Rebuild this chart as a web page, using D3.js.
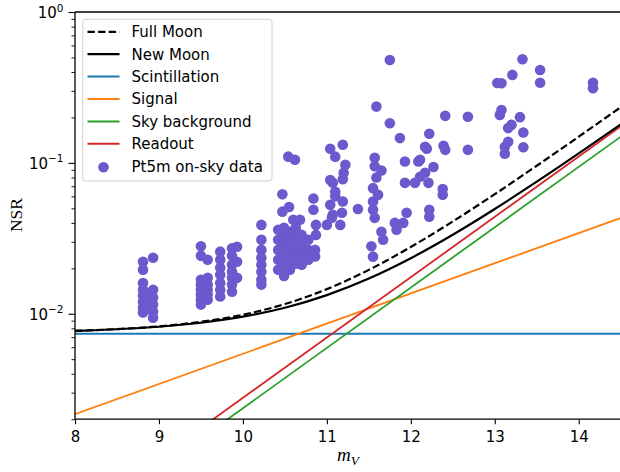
<!DOCTYPE html>
<html><head><meta charset="utf-8">
<script src="https://cdn.jsdelivr.net/npm/d3@7"></script>
<style>body{margin:0;background:#fff}svg{display:block}</style>
</head><body>
<svg id="c" width="620" height="472"></svg>
<script>
// ---- data ----
const xTicks = [8, 9, 10, 11, 12, 13, 14];
const yMajorTicks = [0.01, 0.1, 1];
const yMajorExp = ["-2", "-1", "0"];
const mGrid = [8, 8.5, 9, 9.5, 10, 10.5, 11, 11.5, 12, 12.5, 13, 13.5, 14, 14.5];
const fullMoon = [0.00770, 0.00791, 0.00825, 0.00884, 0.00985, 0.01159, 0.01456, 0.01953, 0.0277, 0.0409, 0.0620, 0.0957, 0.1491, 0.2338];
const newMoon  = [0.00769, 0.00789, 0.00820, 0.00872, 0.00956, 0.01096, 0.01329, 0.01712, 0.02335, 0.03339, 0.04946, 0.07503, 0.1156, 0.1801];
const mEnds = [8, 14.5];
const scintillation = [0.00737, 0.00737];
const signal = [0.00216, 0.0431];
const skyBackground = [0.000375, 0.149];
const readout = [0.000439, 0.1747];
const dataM = [
 8.81,8.81,8.81,8.81,8.81,8.81,8.81,8.81, 8.88,8.88, 8.93,8.93,8.93,8.93,8.93,8.93,
 9.50,9.50,9.50,9.50,9.50,9.50,9.50,9.50, 9.58,9.58,9.58,9.58,9.58,9.58,
 9.73,9.73,9.73,9.73,9.73,9.73,9.73, 9.87,9.87,9.87,9.87,9.87,9.87,9.87, 9.93,9.93,9.93,
 10.22,10.22,10.22,10.22,10.22,10.22,10.22,10.22,
 10.47,10.47,10.54,10.62,10.55,10.68,10.60,10.84,10.84,10.87,10.87,11.00,11.04,11.04,11.07,11.07,11.10,11.10,11.10,
 10.42,10.42,10.42,10.42,10.42, 10.49,10.49,10.49,10.49,10.49,10.49,10.49, 10.56,10.56,10.56,10.56,10.56,
 10.63,10.63,10.63,10.63,10.63, 10.70,10.70,10.70,10.70, 10.78,10.78,10.78, 10.86,10.86,
 11.19,11.19,11.20,11.22,11.18,11.06,11.16,11.37,11.19,11.04,
 11.57,11.57,11.57,11.59,11.59,11.55,11.55,11.55,11.55,11.61,11.65,11.67,11.53,11.75,11.75,11.65,
 11.87,11.93,11.93,12.09,12.05,12.17,12.17,11.95,11.91,11.81,11.83,
 12.41,12.41,12.68,12.68,12.22,12.22,12.22,12.39,12.19,12.11,12.11,12.27,12.21,12.38,12.38,
 13.08,13.08,13.06,13.30,13.20,13.16,13.16,13.34,13.34,13.12,13.12,13.33,13.21,13.03,13.54,13.54,14.17,14.17
];
const dataNSR = [
 0.0221,0.0196,0.0160,0.0144,0.0132,0.0120,0.0110,0.0102, 0.0134,0.0115, 0.0235,0.0144,0.0128,0.0115,0.0103,0.0094,
 0.0280,0.0242,0.0168,0.0156,0.0144,0.0134,0.0124,0.0115, 0.0228,0.0173,0.0156,0.0144,0.0134,0.0124,
 0.0258,0.0228,0.0202,0.0181,0.0160,0.0144,0.0130, 0.0272,0.0242,0.0211,0.0190,0.0173,0.0156,0.0140, 0.0278,0.0221,0.0173,
 0.0388,0.0309,0.0265,0.0235,0.0211,0.0190,0.0168,0.0156,
 0.0620,0.0475,0.110,0.105,0.0510,0.0419,0.0419,0.0580,0.0489,0.0388,0.0333,0.0388,0.0527,0.124,0.0453,0.0737,0.0643,0.110,0.060,
 0.0360,0.0309,0.0265,0.0228,0.0196, 0.0371,0.0328,0.0291,0.0258,0.0228,0.0202,0.0178, 0.0349,0.0300,0.0258,0.0221,0.0196,
 0.0371,0.0318,0.0272,0.0242,0.0215, 0.0333,0.0286,0.0246,0.0211, 0.0309,0.0265,0.0228, 0.0240,0.0265,
 0.132,0.0555,0.0859,0.097,0.0467,0.0432,0.0388,0.0495,0.078,0.077,
 0.108,0.095,0.0432,0.080,0.236,0.068,0.0555,0.0489,0.0239,0.0614,0.0349,0.0309,0.0280,0.183,0.481,0.089,
 0.146,0.102,0.0737,0.102,0.0737,0.128,0.0859,0.0467,0.0400,0.0400,0.0360,
 0.205,0.122,0.202,0.122,0.156,0.0489,0.044,0.130,0.124,0.105,0.081,0.094,0.0737,0.067,0.0614,
 0.224,0.337,0.208,0.201,0.179,0.170,0.138,0.159,0.127,0.128,0.115,0.486,0.383,0.338,0.413,0.340,0.340,0.312
];
const legendLabels = ["Full Moon", "New Moon", "Scintillation", "Signal", "Sky background", "Readout", "Pt5m on-sky data"];

// ---- chart ----
const svg = d3.select("#c");
const L = 75, R = 620.7, T = 12, B = 419.2;
const x = d3.scaleLinear().domain([8, 14.5]).range([L, R]);
const y = d3.scaleLog().domain([0.002, 1]).range([B, T]);
const font = "'DejaVu Sans', sans-serif";
const fs = 15;

svg.append("defs").append("clipPath").attr("id", "clip")
  .append("rect").attr("x", L).attr("y", T).attr("width", R - L).attr("height", B - T);

const plot = svg.append("g").attr("clip-path", "url(#clip)");

// scatter (below lines, like matplotlib zorder)
plot.append("g").selectAll("circle").data(dataM.map((m, i) => [m, dataNSR[i]]))
  .join("circle").attr("cx", d => x(d[0])).attr("cy", d => y(d[1])).attr("r", 5.3)
  .attr("fill", "#6a5acd");

const line = d3.line().x(d => x(d[0])).y(d => y(d[1]));
const lineC = d3.line().x(d => x(d[0])).y(d => y(d[1])).curve(d3.curveMonotoneX);
function straight(vals, color) {
  plot.append("path").attr("d", line(mEnds.map((m, i) => [m, vals[i]])))
    .attr("fill", "none").attr("stroke", color).attr("stroke-width", 1.8);
}
straight(scintillation, "#1f77b4");
straight(signal, "#ff7f0e");
straight(skyBackground, "#2ca02c");
straight(readout, "#d62728");
plot.append("path").attr("d", lineC(mGrid.map((m, i) => [m, newMoon[i]])))
  .attr("fill", "none").attr("stroke", "#000").attr("stroke-width", 2.2);
plot.append("path").attr("d", lineC(mGrid.map((m, i) => [m, fullMoon[i]])))
  .attr("fill", "none").attr("stroke", "#000").attr("stroke-width", 2.2).attr("stroke-dasharray", "7.4,3.2");

// axes
const xAxis = svg.append("g").attr("transform", `translate(0,${B})`)
  .call(d3.axisBottom(x).tickValues(xTicks).tickSize(5).tickPadding(7).tickFormat(d3.format("d")));
xAxis.select(".domain").remove();
xAxis.selectAll("line").attr("stroke", "#000").attr("stroke-width", 1.1);
xAxis.selectAll("text").attr("font-family", font).attr("font-size", fs).attr("fill", "#000");

const minor = [];
[0.001, 0.01, 0.1].forEach(b => { for (let k = 2; k <= 9; k++) { const v = b * k; if (v >= 0.002 && v < 1) minor.push(v); } });
const yMin = svg.append("g").attr("transform", `translate(${L},0)`)
  .call(d3.axisLeft(y).tickValues(minor).tickSize(3.5).tickFormat(""));
yMin.select(".domain").remove();
yMin.selectAll("line").attr("stroke", "#000").attr("stroke-width", 0.9);

const yAxis = svg.append("g").attr("transform", `translate(${L},0)`)
  .call(d3.axisLeft(y).tickValues(yMajorTicks).tickSize(6.5).tickFormat(""));
yAxis.select(".domain").remove();
yAxis.selectAll("line").attr("stroke", "#000").attr("stroke-width", 1.1);
yAxis.selectAll(".tick").each(function (d, i) {
  const t = d3.select(this).append("text").attr("x", -11.5).attr("y", 5.5)
    .attr("text-anchor", "end").attr("font-family", font).attr("fill", "#000").attr("font-size", fs);
  t.append("tspan").text("10");
  t.append("tspan").attr("dy", -6.5).attr("font-size", 10.5).text(yMajorExp[i].replace("-", "\u2212"));
});

// spines
svg.append("line").attr("x1", L).attr("x2", L).attr("y1", T).attr("y2", B).attr("stroke", "#000").attr("stroke-width", 1.3);
svg.append("line").attr("x1", L).attr("x2", R + 1).attr("y1", B).attr("y2", B).attr("stroke", "#000").attr("stroke-width", 1.3);
svg.append("line").attr("x1", L).attr("x2", R + 1).attr("y1", T).attr("y2", T).attr("stroke", "#000").attr("stroke-width", 1.3);

// axis labels
svg.append("text").attr("transform", "translate(21.7,215) rotate(-90)").attr("text-anchor", "middle")
  .attr("font-family", "'Liberation Serif', serif").attr("font-size", 17.5).text("NSR");
const xl = svg.append("text").attr("x", 348).attr("y", 461).attr("text-anchor", "middle")
  .attr("font-family", "'Liberation Serif', serif").attr("font-size", 19);
xl.append("tspan").attr("font-style", "italic").text("m");
xl.append("tspan").attr("font-style", "italic").attr("font-size", 13.5).attr("dy", 3.5).text("V");

// legend
const lg = svg.append("g");
lg.append("rect").attr("x", 82.7).attr("y", 19.3).attr("width", 189.3).attr("height", 161.7).attr("rx", 3)
  .attr("fill", "#fff").attr("fill-opacity", 0.8).attr("stroke", "#d0d0d0").attr("stroke-width", 1);
const styles = [
  {c: "#000", w: 2.2, dash: "7.4,3.2"}, {c: "#000", w: 2.2}, {c: "#1f77b4", w: 2}, {c: "#ff7f0e", w: 2},
  {c: "#2ca02c", w: 2}, {c: "#d62728", w: 2}, {dot: true}
];
legendLabels.forEach((lab, i) => {
  const cy = 31.8 + i * 22.4;
  const s = styles[i];
  if (s.dot) {
    lg.append("circle").attr("cx", 103.5).attr("cy", cy + 1).attr("r", 5.3).attr("fill", "#6a5acd");
  } else {
    lg.append("line").attr("x1", 87.5).attr("x2", 119.5).attr("y1", cy).attr("y2", cy)
      .attr("stroke", s.c).attr("stroke-width", s.w).attr("stroke-dasharray", s.dash || null);
  }
  lg.append("text").attr("x", 131.5).attr("y", cy).attr("dy", "0.36em").attr("font-family", font)
    .attr("font-size", fs).attr("fill", "#000").text(lab);
});
</script></body></html>
